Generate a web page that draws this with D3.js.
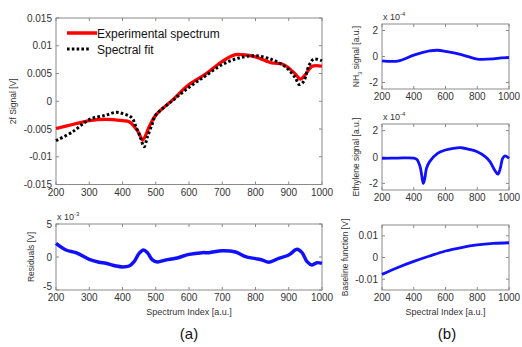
<!DOCTYPE html>
<html>
<head>
<meta charset="utf-8">
<script src="https://cdn.jsdelivr.net/npm/d3@7"></script>
<style>
  body { margin: 0; background: #fff; }
  svg { font-family: "Liberation Sans", Arial, sans-serif; }
</style>
</head>
<body>
<svg id="chart" width="522" height="347"></svg>
<script>
// spectrum index positions and values
const expX = [200, 250, 300, 350, 400, 420, 440, 450, 460, 470, 480, 500, 550, 600, 650, 700, 740, 760, 800, 850, 880, 900, 920, 935, 950, 970, 1000];
const expY = [-0.0049, -0.0042, -0.0035, -0.00325, -0.0035, -0.0037, -0.0049, -0.0058, -0.0070, -0.0061, -0.0046, -0.0025, 0.0002, 0.0030, 0.0049, 0.0072, 0.0084, 0.0084, 0.0080, 0.0069, 0.0067, 0.0060, 0.0049, 0.0040, 0.0048, 0.0063, 0.0063];

const fitX = [200, 250, 300, 350, 380, 400, 420, 430, 440, 455, 465, 475, 490, 500, 550, 600, 650, 700, 750, 800, 850, 880, 900, 920, 932, 945, 960, 975, 1000];
const fitY = [-0.0071, -0.0055, -0.0033, -0.0025, -0.0020, -0.0022, -0.00265, -0.0031, -0.0045, -0.0067, -0.0082, -0.0064, -0.0040, -0.0025, 0.0001, 0.0025, 0.0046, 0.0066, 0.0078, 0.0082, 0.0075, 0.0066, 0.0057, 0.0042, 0.0030, 0.0036, 0.0063, 0.0076, 0.0073];

const resX = [200, 230, 260, 300, 330, 350, 380, 400, 420, 435, 450, 463, 475, 490, 505, 530, 560, 600, 640, 660, 700, 740, 770, 800, 820, 840, 870, 900, 925, 940, 955, 970, 985, 1000];
const resY = [2.07, 1.06, 0.66, -0.35, -0.8, -0.96, -1.36, -1.5, -1.36, -0.7, 0.55, 1.06, 0.66, -0.45, -0.76, -0.45, -0.2, 0.4, 0.66, 0.66, 0.96, 0.76, 0.05, -0.25, -0.45, -0.8, -0.2, 0.3, 1.16, 0.66, -0.7, -1.2, -0.86, -0.96];

const nh3X = [200, 300, 400, 500, 550, 600, 700, 780, 800, 900, 950, 1000];
const nh3Y = [-0.33, -0.35, 0.1, 0.43, 0.48, 0.4, 0.15, -0.15, -0.2, -0.18, -0.1, -0.08];

const ethX = [200, 300, 400, 420, 440, 450, 460, 470, 480, 500, 550, 600, 650, 700, 750, 800, 850, 880, 910, 930, 945, 960, 975, 1000];
const ethY = [-0.1, -0.08, -0.08, -0.18, -0.73, -1.37, -2.0, -1.6, -0.86, -0.35, 0.28, 0.53, 0.66, 0.7, 0.58, 0.4, 0.03, -0.35, -1.0, -1.3, -0.86, -0.1, 0.08, -0.1];

const baseX = [200, 300, 400, 500, 600, 700, 800, 900, 1000];
const baseY = [-0.0078, -0.0046, -0.0018, 0.0007, 0.0030, 0.0046, 0.0058, 0.0065, 0.0068];

const mainXTicks = [200, 300, 400, 500, 600, 700, 800, 900, 1000];
const sideXTicks = [200, 400, 600, 800, 1000];
const mainYTicks = [-0.015, -0.01, -0.005, 0, 0.005, 0.01, 0.015];
const resYTicks = [-5, 0, 5];
const e4YTicks = [-2, 0, 2];
const baseYTicks = [-0.01, 0, 0.01];

const svg = d3.select("#chart");
const axisColor = "#8a8a8a";
const textColor = "#333";

function panel(opt) {
  const x = d3.scaleLinear().domain([200, 1000]).range([opt.left, opt.right]);
  const y = d3.scaleLinear().domain(opt.yDomain).range([opt.bottom, opt.top]);
  const g = svg.append("g");

  g.append("rect")
    .attr("x", opt.left).attr("y", opt.top)
    .attr("width", opt.right - opt.left).attr("height", opt.bottom - opt.top)
    .attr("fill", "none").attr("stroke", axisColor).attr("stroke-width", 1);

  const tl = 3;
  const fmt = opt.fmt || (d => d);
  // x ticks, inward on bottom and top
  opt.xTicks.forEach(t => {
    g.append("line").attr("x1", x(t)).attr("x2", x(t)).attr("y1", opt.bottom).attr("y2", opt.bottom - tl).attr("stroke", axisColor);
    g.append("line").attr("x1", x(t)).attr("x2", x(t)).attr("y1", opt.top).attr("y2", opt.top + tl).attr("stroke", axisColor);
    g.append("text").attr("x", x(t)).attr("y", opt.bottom + 11)
      .attr("text-anchor", "middle").attr("font-size", 10).attr("fill", textColor).text(t);
  });
  opt.yTicks.forEach((t, i) => {
    g.append("line").attr("x1", opt.left).attr("x2", opt.left + tl).attr("y1", y(t)).attr("y2", y(t)).attr("stroke", axisColor);
    g.append("line").attr("x1", opt.right).attr("x2", opt.right - tl).attr("y1", y(t)).attr("y2", y(t)).attr("stroke", axisColor);
    // lowest label may sit a touch higher so it clears the x tick labels
    const dy = i === 0 && opt.lowDy !== undefined ? opt.lowDy : 3.5;
    g.append("text").attr("x", opt.left - 4).attr("y", y(t) + dy)
      .attr("text-anchor", "end").attr("font-size", 10).attr("fill", textColor).text(fmt(t));
  });

  if (opt.exp) {
    const et = g.append("text").attr("x", opt.left + 1).attr("y", opt.top - 4)
      .attr("font-size", 9).attr("fill", textColor);
    et.append("tspan").text("x 10");
    et.append("tspan").attr("dy", -4).attr("font-size", 6).text(opt.exp);
  }

  // y label
  const yl = g.append("text")
    .attr("transform", `translate(${opt.yLabelX},${(opt.top + opt.bottom) / 2}) rotate(-90)`)
    .attr("text-anchor", "middle").attr("font-size", 8.5).attr("fill", textColor);
  opt.yLabel.forEach(p => {
    const ts = yl.append("tspan").text(p.t);
    if (p.dy) ts.attr("dy", p.dy);
    if (p.sub) ts.attr("font-size", 6);
  });

  if (opt.xLabel) {
    g.append("text").attr("x", (opt.left + opt.right) / 2).attr("y", opt.bottom + 25)
      .attr("text-anchor", "middle").attr("font-size", 9).attr("fill", textColor).text(opt.xLabel);
  }

  return { g, x, y };
}

function curve(p, xs, ys, color, width, dash) {
  const line = d3.line().x((d, i) => p.x(xs[i])).y(d => p.y(d)).curve(d3.curveCatmullRom);
  const path = p.g.append("path").datum(ys)
    .attr("d", line).attr("fill", "none")
    .attr("stroke", color).attr("stroke-width", width);
  if (dash) path.attr("stroke-dasharray", dash);
  return path;
}

// (a) main spectrum
const pMain = panel({
  left: 56, right: 322, top: 18, bottom: 184.5,
  yDomain: [-0.015, 0.015], xTicks: mainXTicks, yTicks: mainYTicks,
  yLabelX: 16, yLabel: [{ t: "2f Signal [V]" }]
});
curve(pMain, expX, expY, "#ff0000", 3.2);
curve(pMain, fitX, fitY, "#000", 3, "2.6,2.2");

// legend
pMain.g.append("line").attr("x1", 67).attr("x2", 97).attr("y1", 33).attr("y2", 33)
  .attr("stroke", "#ff0000").attr("stroke-width", 3.5);
pMain.g.append("text").attr("x", 97).attr("y", 37.5).attr("font-size", 12).attr("fill", "#111").text("Experimental spectrum");
pMain.g.append("line").attr("x1", 67).attr("x2", 89).attr("y1", 49).attr("y2", 49)
  .attr("stroke", "#000").attr("stroke-width", 3).attr("stroke-dasharray", "2.6,2.2");
pMain.g.append("text").attr("x", 97).attr("y", 53.5).attr("font-size", 12).attr("fill", "#111").text("Spectral fit");

// (a) residuals
const pRes = panel({
  left: 56, right: 322, top: 224, bottom: 290,
  yDomain: [-5, 5], xTicks: mainXTicks, yTicks: resYTicks, lowDy: -0.5,
  exp: "-3", yLabelX: 34, yLabel: [{ t: "Residuals [V]" }],
  xLabel: "Spectrum Index [a.u.]"
});
curve(pRes, resX, resY, "#1010ff", 3.5);

// (b) NH3
const pNh3 = panel({
  left: 382, right: 509, top: 24, bottom: 89,
  yDomain: [-2.5, 2.5], xTicks: sideXTicks, yTicks: e4YTicks,
  exp: "-4", yLabelX: 359,
  yLabel: [{ t: "NH" }, { t: "3", dy: 2.5, sub: true }, { t: " signal [a.u.]", dy: -2.5 }]
});
curve(pNh3, nh3X, nh3Y, "#1010ff", 2.8);

// (b) ethylene
const pEth = panel({
  left: 382, right: 509, top: 124, bottom: 190,
  yDomain: [-2.5, 2.5], xTicks: sideXTicks, yTicks: e4YTicks,
  exp: "-4", yLabelX: 359, yLabel: [{ t: "Ethylene signal [a.u.]" }]
});
curve(pEth, ethX, ethY, "#1010ff", 2.8);

// (b) baseline
const pBase = panel({
  left: 382, right: 509, top: 225, bottom: 290,
  yDomain: [-0.015, 0.015], xTicks: sideXTicks, yTicks: baseYTicks,
  yLabelX: 348, yLabel: [{ t: "Baseline function [V]" }],
  xLabel: "Spectral Index [a.u.]"
});
curve(pBase, baseX, baseY, "#1010ff", 2.8);

svg.append("text").attr("x", 189).attr("y", 339).attr("text-anchor", "middle")
  .attr("font-size", 15).attr("fill", "#111").text("(a)");
svg.append("text").attr("x", 447).attr("y", 339).attr("text-anchor", "middle")
  .attr("font-size", 15).attr("fill", "#111").text("(b)");
</script>
</body>
</html>
